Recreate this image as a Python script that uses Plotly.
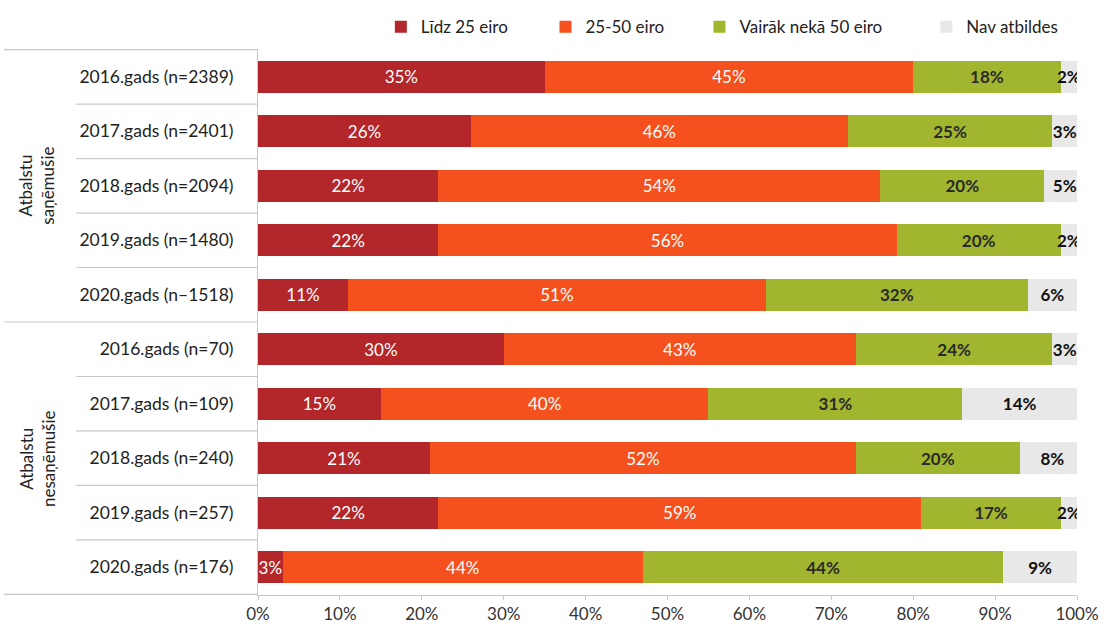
import plotly.graph_objects as go

categories = [
    "2016.gads (n=2389)", "2017.gads (n=2401)", "2018.gads (n=2094)",
    "2019.gads (n=1480)", "2020.gads (n–1518)",
    "2016.gads (n=70)", "2017.gads (n=109)", "2018.gads (n=240)",
    "2019.gads (n=257)", "2020.gads (n=176)",
]
groups = ["Atbalstu<br>saņēmušie", "Atbalstu<br>nesaņēmušie"]
series_names = ["Līdz 25 eiro", "25-50 eiro", "Vairāk nekā 50 eiro", "Nav atbildes"]
lidz_25 = [35, 26, 22, 22, 11, 30, 15, 21, 22, 3]
eiro_25_50 = [45, 46, 54, 56, 51, 43, 40, 52, 59, 44]
virs_50 = [18, 25, 20, 20, 32, 24, 31, 20, 17, 44]
nav_atbildes = [2, 3, 5, 2, 6, 3, 14, 8, 2, 9]
x_ticks = [0, 10, 20, 30, 40, 50, 60, 70, 80, 90, 100]

colors = ["#B3262A", "#F4511E", "#A1B62E", "#E8E8E8"]
text_colors = ["#FFFFFF", "#FFFFFF", "#2A2A2A", "#111111"]
text_weights = ["normal", "normal", "bold", "bold"]
legend_x = [0.150, 0.351, 0.539, 0.816]
FONT = "Lato"
FS = 17

fig = go.Figure()
for i, (name, vals, col, tcol, tw) in enumerate(zip(
        series_names, [lidz_25, eiro_25_50, virs_50, nav_atbildes],
        colors, text_colors, text_weights)):
    fig.add_trace(go.Bar(
        y=categories, x=vals, name=name, orientation="h",
        marker=dict(color=col, line=dict(width=0)),
        text=[f"{v}%" for v in vals], textposition="inside", textangle=0,
        insidetextanchor="middle", constraintext="none",
        insidetextfont=dict(color=tcol, size=FS, family=FONT, weight=tw),
        hoverinfo="x+y+name",
        legend="legend" if i == 0 else f"legend{i+1}",
    ))

leg_common = dict(orientation="h", yanchor="middle", y=1.04, xanchor="left",
                  font=dict(size=FS, family=FONT, color="#222222"),
                  itemwidth=30, bgcolor="rgba(0,0,0,0)", borderwidth=0)

fig.update_layout(
    barmode="stack", bargap=0.41,
    width=1104, height=627,
    margin=dict(l=258, r=27, t=49, b=32, autoexpand=False),
    plot_bgcolor="white", paper_bgcolor="white",
    font=dict(family=FONT, size=FS, color="#222222"),
    uniformtext=dict(minsize=FS, mode="show"),
    showlegend=True,
    legend=dict(x=legend_x[0], **leg_common),
    legend2=dict(x=legend_x[1], **leg_common),
    legend3=dict(x=legend_x[2], **leg_common),
    legend4=dict(x=legend_x[3], **leg_common),
    xaxis=dict(range=[0, 100], tickvals=x_ticks, ticktext=[f"{t}%" for t in x_ticks],
               showgrid=False, zeroline=False, showline=True, linecolor="#C8C8C8",
               ticks="outside", ticklen=4, tickcolor="#C8C8C8", automargin=False,
               tickfont=dict(size=FS, color="#333333")),
    yaxis=dict(autorange="reversed", showgrid=False, showline=True, linecolor="#C8C8C8",
               ticks="", ticklabelstandoff=20, automargin=False,
               tickfont=dict(size=17.5, color="#222222")),
)

# separator lines on the left label area
n = len(categories)
for i in range(n + 1):
    outer = i in (0, 5, 10)
    fig.add_shape(type="line", xref="paper", yref="y",
                  x0=-0.31 if outer else -0.222, x1=0,
                  y0=i - 0.5, y1=i - 0.5,
                  line=dict(color="#C8C8C8", width=1.2))

for gi, g in enumerate(groups):
    fig.add_annotation(text=g, xref="paper", yref="y", x=-0.27, y=gi * 5 + 2,
                       xanchor="center", yanchor="middle",
                       textangle=-90, showarrow=False,
                       font=dict(size=FS, family=FONT, color="#222222"))

fig.write_html("out.html", config={"displayModeBar": False},
               post_script="document.body.style.margin='0';document.body.style.overflow='hidden';")
